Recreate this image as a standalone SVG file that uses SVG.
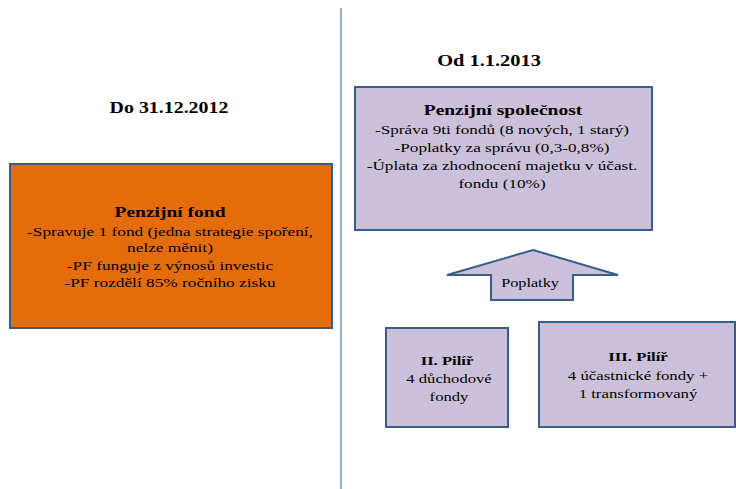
<svg xmlns="http://www.w3.org/2000/svg" width="736" height="489" viewBox="0 0 736 489">
<style>
text{font-family:"Liberation Serif","Times New Roman",serif;fill:#000;text-anchor:middle}
.h{font-weight:bold;font-size:15px}
.d{font-weight:bold;font-size:17px}
.t{font-size:13px}
.b{stroke:#385D8A;stroke-width:2}
.or{fill:#E46C0A}
.pu{fill:#CCC1DA}
</style>
<rect width="736" height="489" fill="#fff"/>
<g id="divider"><line x1="341" y1="8" x2="341" y2="489" stroke="#4F81BD" stroke-width="1.2"/></g>
<g id="label-do"><text class="d" transform="translate(169 113) scale(1.17 1)">Do 31.12.2012</text></g>
<g id="label-od"><text class="d" transform="translate(489 66) scale(1.2 1)">Od 1.1.2013</text></g>
<g id="penzijni-fond">
<rect class="b or" x="10" y="164" width="322" height="164"/>
<text class="h" transform="translate(170 217) scale(1.3 1)">Penzijní  fond</text>
<text class="t" transform="translate(170 236) scale(1.33 1)">-Spravuje 1 fond (jedna strategie spoření,</text>
<text class="t" transform="translate(170 252) scale(1.33 1)">nelze měnit)</text>
<text class="t" transform="translate(170 270) scale(1.33 1)">-PF funguje z  výnosů investic</text>
<text class="t" transform="translate(170 287) scale(1.33 1)">-PF rozdělí  85% ročního zisku</text>
</g>
<g id="penzijni-spolecnost">
<rect class="b pu" x="355" y="87" width="297" height="143"/>
<text class="h" transform="translate(503 115) scale(1.3 1)">Penzijní  společnost</text>
<text class="t" transform="translate(502 134) scale(1.32 1)">-Správa 9ti fondů (8  nových, 1 starý)</text>
<text class="t" transform="translate(502 152) scale(1.32 1)">-Poplatky za správu (0,3-0,8%)</text>
<text class="t" transform="translate(502 170) scale(1.32 1)">-Úplata za zhodnocení majetku  v účast.</text>
<text class="t" transform="translate(502 188) scale(1.32 1)">fondu (10%)</text>
</g>
<g id="connectors">
<g id="poplatky-arrow">
<polygon class="b pu" points="533,250 618,275 573,275 573,300 491,300 491,275 447,275"/>
<text class="t" transform="translate(530 287) scale(1.25 1)">Poplatky</text>
</g>
</g>
<g id="pilir-2">
<rect class="b pu" x="386" y="328" width="122" height="99"/>
<text class="t" font-weight="bold" transform="translate(447 365) scale(1.28 1)">II.  Pilíř</text>
<text class="t" transform="translate(449 383) scale(1.28 1)">4 důchodové</text>
<text class="t" transform="translate(449 401) scale(1.28 1)">fondy</text>
</g>
<g id="pilir-3">
<rect class="b pu" x="539" y="322" width="196" height="105"/>
<text class="t" font-weight="bold" transform="translate(638 361) scale(1.29 1)">III.  Pilíř</text>
<text class="t" transform="translate(638 380) scale(1.29 1)">4 účastnické fondy +</text>
<text class="t" transform="translate(638 398) scale(1.29 1)">1 transformovaný</text>
</g>
</svg>
